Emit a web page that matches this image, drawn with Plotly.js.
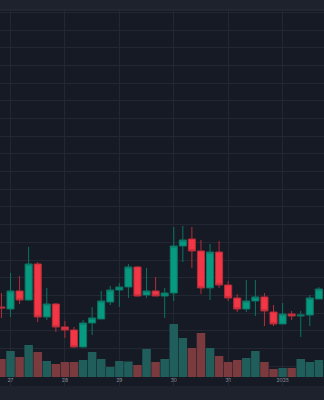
<!DOCTYPE html>
<html>
<head>
<meta charset="utf-8">
<script src="https://cdn.plot.ly/plotly-3.0.1.min.js"></script>
<style>
html,body{margin:0;padding:0;background:#1e222d;}
#chart{width:324px;height:400px;}
</style>
</head>
<body>
<div id="chart"></div>
<script>
const times = [
  '2024-12-26 20:00',
  '2024-12-27 00:00','2024-12-27 04:00','2024-12-27 08:00','2024-12-27 12:00','2024-12-27 16:00','2024-12-27 20:00',
  '2024-12-28 00:00','2024-12-28 04:00','2024-12-28 08:00','2024-12-28 12:00','2024-12-28 16:00','2024-12-28 20:00',
  '2024-12-29 00:00','2024-12-29 04:00','2024-12-29 08:00','2024-12-29 12:00','2024-12-29 16:00','2024-12-29 20:00',
  '2024-12-30 00:00','2024-12-30 04:00','2024-12-30 08:00','2024-12-30 12:00','2024-12-30 16:00','2024-12-30 20:00',
  '2024-12-31 00:00','2024-12-31 04:00','2024-12-31 08:00','2024-12-31 12:00','2024-12-31 16:00','2024-12-31 20:00',
  '2025-01-01 00:00','2025-01-01 04:00','2025-01-01 08:00','2025-01-01 12:00','2025-01-01 16:00'
];
const opens  = [3307.0,3304.7,3325.1,3314.9,3355.6,3295.7,3310.4,3284.4,3281.0,3261.8,3288.9,3293.4,3312.6,3326.2,3329.6,3352.2,3320.5,3325.1,3319.4,3322.8,3375.9,3383.8,3370.3,3328.5,3369.1,3331.8,3317.2,3304.7,3313.8,3318.3,3301.3,3287.8,3299.1,3296.8,3297.9,3316.0];
const highs  = [3322.8,3345.4,3342.0,3374.8,3357.8,3328.5,3311.5,3291.2,3284.4,3292.3,3307.0,3325.1,3330.7,3334.1,3355.6,3353.3,3351.1,3340.9,3328.5,3397.4,3398.5,3397.4,3382.7,3378.2,3381.6,3336.4,3321.7,3337.5,3337.5,3322.8,3309.2,3311.5,3302.5,3302.5,3320.5,3329.6];
const lows   = [3294.6,3295.7,3310.4,3313.8,3290.0,3292.3,3278.7,3272.0,3261.0,3261.0,3275.3,3293.4,3309.2,3307.0,3317.2,3318.8,3317.2,3319.4,3294.6,3313.8,3357.8,3351.1,3321.7,3314.9,3328.5,3313.8,3301.3,3301.3,3296.8,3285.5,3285.5,3287.8,3292.3,3273.1,3285.5,3316.0];
const closes = [3305.9,3325.1,3314.9,3355.6,3295.7,3310.4,3284.4,3281.0,3261.8,3288.9,3294.6,3313.8,3326.2,3329.6,3352.2,3319.4,3325.1,3319.4,3322.8,3375.9,3382.7,3370.3,3328.5,3369.1,3331.8,3317.2,3304.7,3313.8,3318.3,3302.5,3287.8,3299.1,3296.8,3297.9,3317.2,3327.3];
const volumes = [18000,26000,20000,32000,25000,16000,13000,15000,15000,17000,25000,18000,10000,16000,15500,12000,28000,15000,18000,53000,39000,29000,44000,29000,21000,15000,17000,19000,26000,15000,8000,9000,9000,18000,15000,17000];
const dayTicks = ['2024-12-27','2024-12-28','2024-12-29','2024-12-30','2024-12-31','2025-01-01'];
const dayLabels = ['27','28','29','30','31','2025'];
const refLevel = 3580;

const upColor = '#089981', downColor = '#f23645';
const upVol = '#1f5e5a', downVol = '#7a3a3e';
const volColors = closes.map((c,i) => c >= opens[i] ? upVol : downVol);

const volTrace = {
  type: 'bar', x: times, y: volumes, yaxis: 'y2',
  marker: {color: volColors, line: {width: 0}},
  hoverinfo: 'skip', showlegend: false
};
const candleTrace = {
  type: 'candlestick', x: times, open: opens, high: highs, low: lows, close: closes,
  increasing: {line: {color: '#0c7463', width: 1}, fillcolor: upColor},
  decreasing: {line: {color: '#b52d3a', width: 1}, fillcolor: downColor},
  whiskerwidth: 0, showlegend: false, hoverinfo: 'skip'
};

const layout = {
  width: 324, height: 400,
  margin: {l: 0, r: 0, t: 10, b: 14},
  paper_bgcolor: '#1e222d', plot_bgcolor: '#161a25',
  showlegend: false,
  bargap: 0.06, boxgap: 0.22, boxgroupgap: 0,
  xaxis: {
    type: 'date', range: ['2024-12-26 19:22', '2025-01-01 18:16'],
    rangeslider: {visible: false},
    tickmode: 'array', tickvals: dayTicks, ticktext: dayLabels,
    ticklabelposition: 'inside', ticks: '',
    tickfont: {family: 'Inter, Roboto, sans-serif', size: 5, color: '#8a8e98'},
    showgrid: true, gridcolor: '#232734', gridwidth: 1,
    zeroline: false, showline: false, fixedrange: true
  },
  yaxis: {
    range: [3217.7, 3642.6], tick0: 3400, dtick: 20,
    showticklabels: false, ticks: '',
    showgrid: true, gridcolor: '#232734', gridwidth: 1,
    zeroline: false, showline: false, fixedrange: true
  },
  yaxis2: {
    overlaying: 'y', range: [-9000, 367000],
    showgrid: false, showticklabels: false, zeroline: false, showline: false, fixedrange: true
  },
  shapes: [
    {type: 'line', xref: 'paper', x0: 0, x1: 1, yref: 'y', y0: refLevel, y1: refLevel,
     line: {color: 'rgba(8,153,129,0.22)', width: 1}, layer: 'below'},
    {type: 'line', xref: 'paper', x0: 0, x1: 1, yref: 'paper', y0: 1, y1: 1,
     line: {color: '#2a2e39', width: 1}}
  ]
};

Plotly.newPlot('chart', [volTrace, candleTrace], layout, {displayModeBar: false, staticPlot: true});
</script>
</body>
</html>
